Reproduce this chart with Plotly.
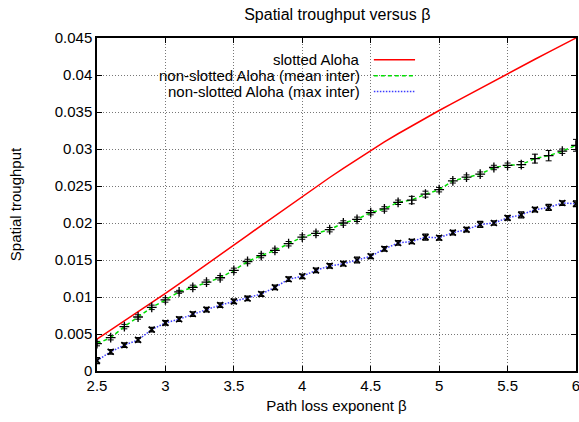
import plotly.graph_objects as go

# ---- data ----
beta = [round(2.5 + 0.1 * i, 1) for i in range(36)]

mean_inter = [0.0037, 0.0045, 0.0060, 0.0073, 0.0086, 0.0096, 0.0107, 0.0113, 0.0120, 0.0126,
              0.0136, 0.0148, 0.0156, 0.0163, 0.0172, 0.0181, 0.0186, 0.0191, 0.0200, 0.0205,
              0.0214, 0.0219, 0.0228, 0.0231, 0.0239, 0.0245, 0.0257, 0.0262, 0.0266, 0.0275,
              0.0278, 0.0279, 0.0287, 0.0291, 0.0297, 0.0305]
mean_err = [0.0003, 0.0003, 0.0003, 0.0003, 0.0003, 0.0003, 0.0002, 0.0003, 0.0003, 0.0003,
            0.0003, 0.0003, 0.0003, 0.0003, 0.0003, 0.0003, 0.0003, 0.0003, 0.0003, 0.0003,
            0.0003, 0.0003, 0.0003, 0.0005, 0.0004, 0.0003, 0.0003, 0.0003, 0.0003, 0.0003,
            0.0003, 0.0004, 0.0006, 0.0007, 0.0003, 0.0008]

max_inter = [0.0014, 0.0026, 0.0035, 0.0042, 0.0056, 0.0065, 0.0070, 0.0077, 0.0083, 0.0089,
             0.0094, 0.0098, 0.0104, 0.0113, 0.0124, 0.0128, 0.0136, 0.0142, 0.0145, 0.0150,
             0.0155, 0.0165, 0.0173, 0.0175, 0.0181, 0.0180, 0.0187, 0.0191, 0.0198, 0.0200,
             0.0207, 0.0211, 0.0218, 0.0221, 0.0227, 0.0226]
max_err = [0.0004, 0.0003, 0.0003, 0.0003, 0.0003, 0.0003, 0.0003, 0.0003, 0.0003, 0.0003,
           0.0003, 0.0003, 0.0003, 0.0003, 0.0003, 0.0003, 0.0003, 0.0003, 0.0003, 0.0004,
           0.0003, 0.0003, 0.0003, 0.0003, 0.0004, 0.0003, 0.0003, 0.0003, 0.0004, 0.0003,
           0.0003, 0.0004, 0.0003, 0.0004, 0.0003, 0.0004]

slotted = [0.00430, 0.00552, 0.00675, 0.00799, 0.00924, 0.01050, 0.01178, 0.01307, 0.01437,
           0.01568, 0.01700, 0.01833, 0.01966, 0.02098, 0.02229, 0.02360, 0.02489, 0.02615,
           0.02739, 0.02861, 0.02980, 0.03095, 0.03206, 0.03313, 0.03418, 0.03520, 0.03621,
           0.03721, 0.03821, 0.03921, 0.04020, 0.04117, 0.04213, 0.04309, 0.04405, 0.04500]

x_ticks = [2.5, 3, 3.5, 4, 4.5, 5, 5.5, 6]
x_tick_text = ["2.5", "3", "3.5", "4", "4.5", "5", "5.5", "6"]
y_ticks = [0, 0.005, 0.01, 0.015, 0.02, 0.025, 0.03, 0.035, 0.04, 0.045]
y_tick_text = ["0", "0.005", "0.01", "0.015", "0.02", "0.025", "0.03", "0.035", "0.04", "0.045"]

names = ["slotted Aloha", "non-slotted Aloha (mean inter)", "non-slotted Aloha (max inter)"]
colors = ["#ff0000", "#00e000", "#3b3bff"]
dashes = ["solid", "4px,3px", "1.5px,1.5px"]

FONT = "Liberation Sans, Arial, sans-serif"

fig = go.Figure()

fig.add_trace(go.Scatter(
    x=beta, y=slotted, mode="lines", name=names[0],
    line=dict(color=colors[0], width=1.5, dash=dashes[0]),
    showlegend=False))

fig.add_trace(go.Scatter(
    x=beta, y=mean_inter, mode="lines+markers", name=names[1],
    line=dict(color=colors[1], width=1.5, dash=dashes[1]),
    marker=dict(symbol="cross-thin", size=7, color="black",
                line=dict(color="black", width=1.3)),
    error_y=dict(type="data", array=mean_err, visible=True, color="black",
                 thickness=1, width=3),
    showlegend=False))

fig.add_trace(go.Scatter(
    x=beta, y=max_inter, mode="lines+markers", name=names[2],
    line=dict(color=colors[2], width=1.5, dash=dashes[2]),
    marker=dict(symbol="x-thin", size=6, color="black",
                line=dict(color="black", width=1.6)),
    error_y=dict(type="data", array=max_err, visible=True, color="black",
                 thickness=1.3, width=3),
    showlegend=False))

# ---- manual gnuplot-style key (text right, sample line on the right) ----
shapes = [dict(type="rect", xref="paper", yref="paper", x0=0, x1=0.685, y0=0.814, y1=0.964,
               fillcolor="white", line=dict(width=0), layer="between")]
annotations = []
key_rows = [0.935, 0.887, 0.839]
for name, col, dsh, yy in zip(names, colors, dashes, key_rows):
    annotations.append(dict(xref="paper", yref="paper", x=0.553, y=yy, text=name,
                            showarrow=False, xanchor="right", yanchor="middle",
                            font=dict(family=FONT, size=15, color="black")))
    shapes.append(dict(type="line", xref="paper", yref="paper", x0=0.578, x1=0.664,
                       y0=yy, y1=yy, line=dict(color=col, width=1.5, dash=dsh), layer="above"))

axis_common = dict(
    showline=True, linecolor="black", linewidth=1.5, mirror="allticks",
    ticks="inside", ticklen=5, tickcolor="black", tickwidth=1,
    showgrid=True, gridcolor="#777777", griddash="1px,2px", gridwidth=1,
    zeroline=False, automargin=False, ticklabeloverflow="allow",
    tickfont=dict(family=FONT, size=15, color="black"),
)

fig.update_layout(
    width=579, height=422,
    margin=dict(l=97, r=3, t=38, b=51, autoexpand=False),
    paper_bgcolor="white", plot_bgcolor="white",
    font=dict(family=FONT, size=15, color="black"),
    title=dict(text="Spatial troughput versus β", x=0.5825, xanchor="center",
               y=0.965, yanchor="middle", font=dict(family=FONT, size=16, color="black")),
    xaxis=dict(range=[2.5, 6], tickvals=x_ticks, ticktext=x_tick_text,
               title=dict(text="Path loss exponent β", standoff=8,
                          font=dict(family=FONT, size=15, color="black")),
               **axis_common),
    yaxis=dict(range=[0, 0.045], tickvals=y_ticks, ticktext=y_tick_text,
               title=dict(text="Spatial troughput", standoff=29,
                          font=dict(family=FONT, size=15, color="black")),
               **axis_common),
    shapes=shapes, annotations=annotations,
)

fig.write_html("out.html", config={"displayModeBar": False},
               post_script="document.body.style.margin='0';document.body.style.overflow='hidden';")
